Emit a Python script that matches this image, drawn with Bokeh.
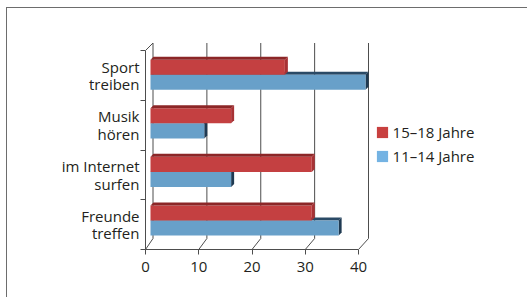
import numpy as np
from bokeh.plotting import figure
from bokeh.models import Range1d, FixedTicker, Legend, LegendItem, ColumnDataSource
from bokeh.embed import file_html
from bokeh.resources import INLINE

# ---- data (bottom to top) ----
categories = ["Freunde\ntreffen", "im Internet\nsurfen", "Musik\nhören", "Sport\ntreiben"]
jahre_15_18 = [30, 30, 15, 25]
jahre_11_14 = [35, 15, 10, 40]
x_ticks = [0, 10, 20, 30, 40]
series_names = ["15–18 Jahre", "11–14 Jahre"]

# ---- styling ----
FONT = "Open Sans"
TXT = "#231f20"
LINE = "#4d4d4d"
RED, RED_TOP, RED_SIDE = "#c44041", "#8c2627", "#a83235"
BLUE, BLUE_TOP, BLUE_SIDE = "#68a0c9", "#2a4a66", "#1f3a52"
LEG_RED, LEG_BLUE = "#c8403f", "#74b3e3"

W, H = 521, 290
ML, MR, MT, MB = 138, 28, 28, 49
FW, FH = W - ML - MR, H - MT - MB
UX, UY = 5.325, 49.75          # front plane px per unit
BUX, BUY = 5.375, 48.57        # bar plane px per unit


def px_range(zero_px, unit_px, length):
    start = -zero_px / unit_px
    return Range1d(start, start + length / unit_px)


p = figure(width=W, height=H, output_backend="svg", toolbar_location=None,
           x_range=px_range(0, UX, FW), y_range=px_range(0.5 * UY, UY, FH),
           min_border_left=ML, min_border_right=MR, min_border_top=MT, min_border_bottom=MB)
p.extra_x_ranges = {"bar": px_range(5, BUX, FW)}
p.extra_y_ranges = {"bar": px_range(29, BUY, FH)}
p.outline_line_color = None
p.xgrid.visible = False
p.ygrid.visible = False
p.styles = {"border-top": "1px solid #6d6d6d", "border-left": "1px solid #6d6d6d",
            "margin-left": "6px", "margin-top": "7px"}

# ---- back wall / floor lines (3D frame) ----
SB = 5.3875 / UX
OXB = 7.5 / UX
YB0 = -0.5 + 11 / UY
YBT = len(categories) - 0.5 + 7.5 / UY
x0s, y0s, x1s, y1s = [], [], [], []
for t in x_ticks:
    xb = SB * t + OXB
    x0s += [xb, t]
    y0s += [YB0, -0.5]
    x1s += [xb, xb]
    y1s += [YBT, YB0]
x0s.append(0); y0s.append(len(categories) - 0.5); x1s.append(OXB); y1s.append(YBT)
p.segment(x0=x0s, y0=y0s, x1=x1s, y1=y1s, line_color=LINE, line_width=1)

# ---- 3D bars ----
T = 0.31
dx, dy = 3 / BUX, 3 / BUY


def bar_faces(values, lower):
    fx, fy, tx, ty, sx, sy = [], [], [], [], [], []
    for i, v in enumerate(values):
        b, t = (i - T, i) if lower else (i, i + T)
        fx.append([0, v, v, 0]); fy.append([b, b, t, t])
        tx.append([0, dx, v + dx, v]); ty.append([t, t + dy, t + dy, t])
        sx.append([v, v + dx, v + dx, v]); sy.append([b, b + dy, t + dy, t])
    return fx, fy, tx, ty, sx, sy


kw = dict(x_range_name="bar", y_range_name="bar", line_color=None)
fx, fy, tx, ty, sx, sy = bar_faces(jahre_11_14, True)
p.patches(tx, ty, fill_color=BLUE_TOP, **kw)
p.patches(sx, sy, fill_color=BLUE_SIDE, **kw)
p.patches(fx, fy, fill_color=BLUE, **kw)
fx, fy, tx, ty, sx, sy = bar_faces(jahre_15_18, False)
p.patches(fx, fy, fill_color=RED, **kw)
p.patches(tx, ty, fill_color=RED_TOP, **kw)
p.patches(sx, sy, fill_color=RED_SIDE, **kw)

# ---- axes ----
xa = p.xaxis[0]
xa.ticker = FixedTicker(ticks=x_ticks)
xa.bounds = (0, 40)
xa.axis_line_color = LINE
xa.major_tick_line_color = LINE
xa.major_tick_out = 5
xa.major_tick_in = 0
xa.minor_tick_line_color = None
xa.major_label_text_font = FONT
xa.major_label_text_font_size = "15px"
xa.major_label_text_color = TXT
xa.major_label_standoff = 7

ya = p.yaxis[0]
ya.ticker = FixedTicker(ticks=list(range(len(categories))),
                        minor_ticks=[i - 0.5 for i in range(len(categories) + 1)])
ya.bounds = (-0.5, len(categories) - 0.5)
ya.axis_line_color = LINE
ya.major_tick_line_color = None
ya.major_tick_out = 5
ya.minor_tick_line_color = LINE
ya.minor_tick_out = 5
ya.minor_tick_in = 0
ya.major_label_overrides = {i: c for i, c in enumerate(categories)}
ya.major_label_text_font = FONT
ya.major_label_text_font_size = "15px"
ya.major_label_text_color = TXT
ya.major_label_text_line_height = 0.87
ya.major_label_standoff = 1

# ---- legend (swatches only, no plotted marks) ----
src = ColumnDataSource(dict(l=np.array([np.nan]), r=np.array([np.nan]),
                            b=np.array([np.nan]), t=np.array([np.nan])))
r1 = p.quad(left="l", right="r", bottom="b", top="t", source=src, fill_color=LEG_RED, line_color=None)
r2 = p.quad(left="l", right="r", bottom="b", top="t", source=src, fill_color=LEG_BLUE, line_color=None)
legend = Legend(items=[LegendItem(label=series_names[0], renderers=[r1]),
                       LegendItem(label=series_names[1], renderers=[r2])],
                location=(229.6, 83), padding=0, margin=0, spacing=4,
                glyph_width=14, glyph_height=14, label_height=14, label_standoff=4,
                label_text_font=FONT, label_text_font_size="15px", label_text_color=TXT,
                border_line_color=None, background_fill_alpha=0)
p.add_layout(legend)

open("out.html", "w").write(file_html(p, INLINE))
